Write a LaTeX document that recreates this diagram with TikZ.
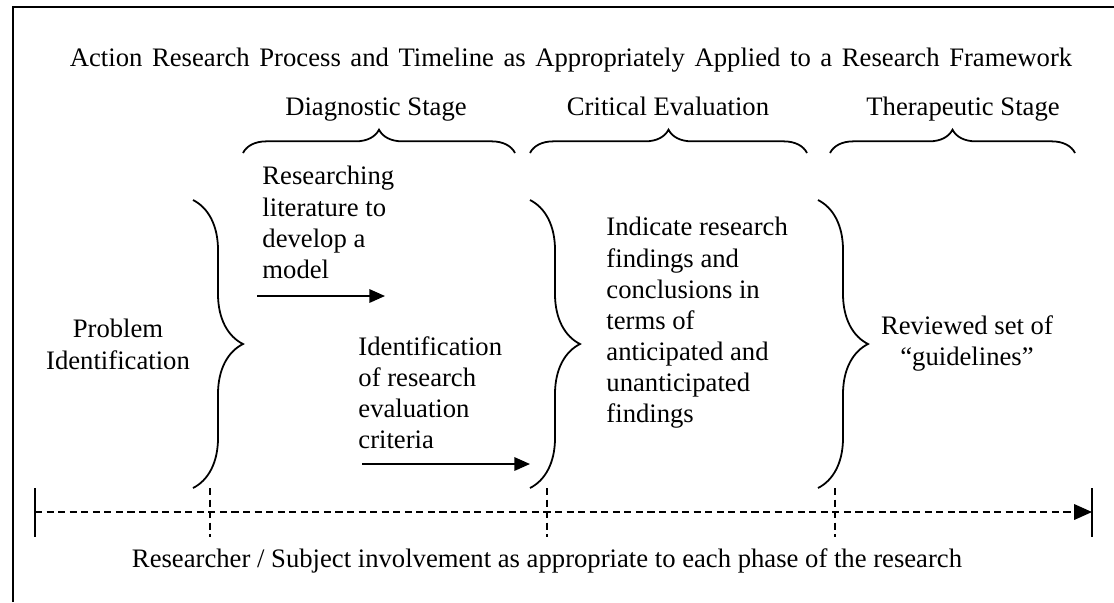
\documentclass[tikz,border=0pt]{standalone}
\usepackage{fontspec}
\setmainfont{Liberation Serif}
\usepackage{tikz}
\usetikzlibrary{arrows.meta,positioning,decorations.pathreplacing}

\begin{document}
\begin{tikzpicture}[x=0.45pt,y=-0.45pt,>={Triangle[length=7pt,width=6pt]},
 font=\fontsize{12}{14}\selectfont,
 txt/.style={inner sep=0pt,align=left,anchor=north west},
 arr/.style={->,line width=0.9pt},
 vbrc/.style={decorate,decoration={brace,amplitude=22.5pt},line width=0.8pt},
 hbrc/.style={decorate,decoration={brace,amplitude=10.5pt},line width=0.8pt},
 tickline/.style={line width=0.7pt},
 dashline/.style={dashed,dash pattern=on 3.2pt off 2pt,line width=0.6pt}]
\useasboundingbox (0,0) rectangle (1114,602);
\draw[line width=0.9pt] (13,602) -- (13,7) -- (1114,7);
% headings
\node[anchor=base,inner sep=0pt] (title) at (571,66) {\makebox[451pt][s]{Action Research Process and Timeline as Appropriately Applied to a Research Framework}};
\node[anchor=base,inner sep=0pt] (diag) at (376,115) {Diagnostic Stage};
\node[anchor=base,inner sep=0pt] (crit) at (668,115) {Critical Evaluation};
\node[anchor=base,inner sep=0pt] (thera) at (963,115) {Therapeutic Stage};
\draw[hbrc] (243,153) -- (515,153);
\draw[hbrc] (530,153) -- (807,153);
\draw[hbrc] (830,153) -- (1075,153);
% stage contents
\node[txt,anchor=north,align=center] (problem) at (118,319) {Problem\\Identification};
\node[txt] (litmodel) at (262,166) {Researching\\literature to\\develop a\\model};
\node[txt] (criteria) at (358,336) {Identification\\of research\\evaluation\\criteria};
\node[txt] (findings) at (606,217) {Indicate research\\findings and\\conclusions in\\terms of\\anticipated and\\unanticipated\\findings};
\node[txt,anchor=north,align=center] (guide) at (967,315) {Reviewed set of\\``guidelines''};
\draw[vbrc] (193,200) -- (193,488);
\draw[vbrc] (530,200) -- (530,488);
\draw[vbrc] (818,200) -- (818,488);
\coordinate (a1s) at (257,296);
\coordinate (a1e) at (385,296);
\coordinate (a2s) at (362,464);
\coordinate (a2e) at (530,464);
\draw[arr] (a1s) -- (a1e);
\draw[arr] (a2s) -- (a2e);
% timeline
\coordinate (tstart) at (35,512);
\coordinate (tend) at (1092,512);
\draw[tickline] (35,488) -- (35,537);
\draw[tickline] (1092,488) -- (1092,537);
\draw[dashline,-{Triangle[length=8pt,width=7pt]}] (tstart) -- (tend);
\foreach \x in {210,547,835}
  \draw[dashline] (\x,488) -- (\x,537);
\node[anchor=base,inner sep=0pt] (involve) at (547,567) {Researcher / Subject involvement as appropriate to each phase of the research};
\end{tikzpicture}
\end{document}
